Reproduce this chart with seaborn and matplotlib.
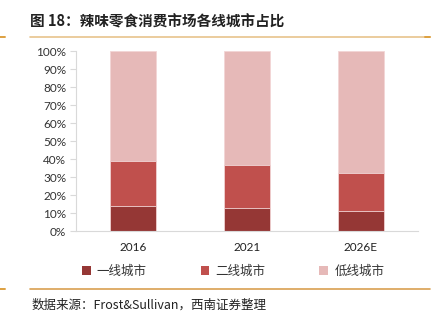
import matplotlib
matplotlib.use("Agg")
import matplotlib.pyplot as plt
from matplotlib.patches import Patch
from matplotlib.lines import Line2D
import seaborn as sns
import pandas as pd

years = ["2016", "2021", "2026E"]
tier1 = [14.0, 13.0, 11.0]
tier2 = [25.0, 23.5, 21.0]
lower = [61.0, 63.5, 68.0]
series_names = ["一线城市", "二线城市", "低线城市"]
colors = ["#953735", "#C0504D", "#E6B9B8"]
yticks = [0, 10, 20, 30, 40, 50, 60, 70, 80, 90, 100]
ytick_labels = [f"{v}%" for v in yticks]
title = "图 18：辣味零食消费市场各线城市占比"
source = "数据来源：Frost&Sullivan，西南证券整理"

sns.set_theme(style="white")
plt.rcParams["font.family"] = ["Noto Sans CJK SC", "DejaVu Sans"]

df = pd.DataFrame({"year": years, "t1": tier1, "t2": tier2, "low": lower})
df["c1"] = df["t1"]
df["c2"] = df["t1"] + df["t2"]
df["c3"] = df["t1"] + df["t2"] + df["low"]

W, H = 438, 322
fig = plt.figure(figsize=(W / 100, H / 100), dpi=100)
ax = fig.add_axes([76 / W, 1 - 231 / H, (418 - 76) / W, (231 - 51) / H])

for col, c in zip(["c3", "c2", "c1"], [colors[2], colors[1], colors[0]]):
    sns.barplot(data=df, x="year", y=col, color=c, width=0.4, ax=ax,
                edgecolor="#f2d6d6", linewidth=0.6, saturation=1)

ax.set_xlim(-0.5, 2.5)
ax.set_ylim(0, 100)
ax.set_yticks(yticks)
ax.set_yticklabels(ytick_labels)
ax.set_xlabel("")
ax.set_ylabel("")
for s in ["top", "right"]:
    ax.spines[s].set_visible(False)
for s in ["left", "bottom"]:
    ax.spines[s].set_color("#d9d9d9")
    ax.spines[s].set_linewidth(0.8)
ax.tick_params(axis="y", which="both", left=True, length=4, width=0.8,
               color="#d9d9d9", labelsize=8.5, labelcolor="#333333", pad=3)
ax.tick_params(axis="x", bottom=False, length=0, labelsize=8.5, labelcolor="#222222", pad=8)
for lab in ax.get_yticklabels() + ax.get_xticklabels():
    lab.set_family(["Lato", "DejaVu Sans"])

handles = [Patch(facecolor=c, edgecolor="none") for c in colors]
fig.legend(handles, series_names, loc="center", bbox_to_anchor=(233 / W, 1 - 271 / H),
           ncol=3, frameon=False, fontsize=9, handlelength=0.7, handleheight=0.7,
           handletextpad=0.5, columnspacing=4.3, labelcolor="#333333")

fig.text(30 / W, 1 - 21 / H, title, fontsize=10.5, fontweight="bold", color="#222222",
         va="center", ha="left")
fig.add_artist(Line2D([30 / W, 430 / W], [1 - 36.5 / H] * 2, color="#E8C48C", lw=1.2))
fig.add_artist(Line2D([425 / W, 430 / W], [1 - 36.5 / H] * 2, color="#DDA040", lw=1.4))
fig.add_artist(Line2D([0, 5 / W], [1 - 36.5 / H] * 2, color="#DDA040", lw=1.4))
fig.add_artist(Line2D([30 / W, 430 / W], [1 - 289 / H] * 2, color="#D9A050", lw=1.2))
fig.add_artist(Line2D([0, 5 / W], [1 - 289 / H] * 2, color="#DDA040", lw=1.4))
fig.text(32 / W, 1 - 305 / H, source, fontsize=9, style="italic", color="#222222",
         va="center", ha="left")

fig.savefig("out.png", dpi=100)
